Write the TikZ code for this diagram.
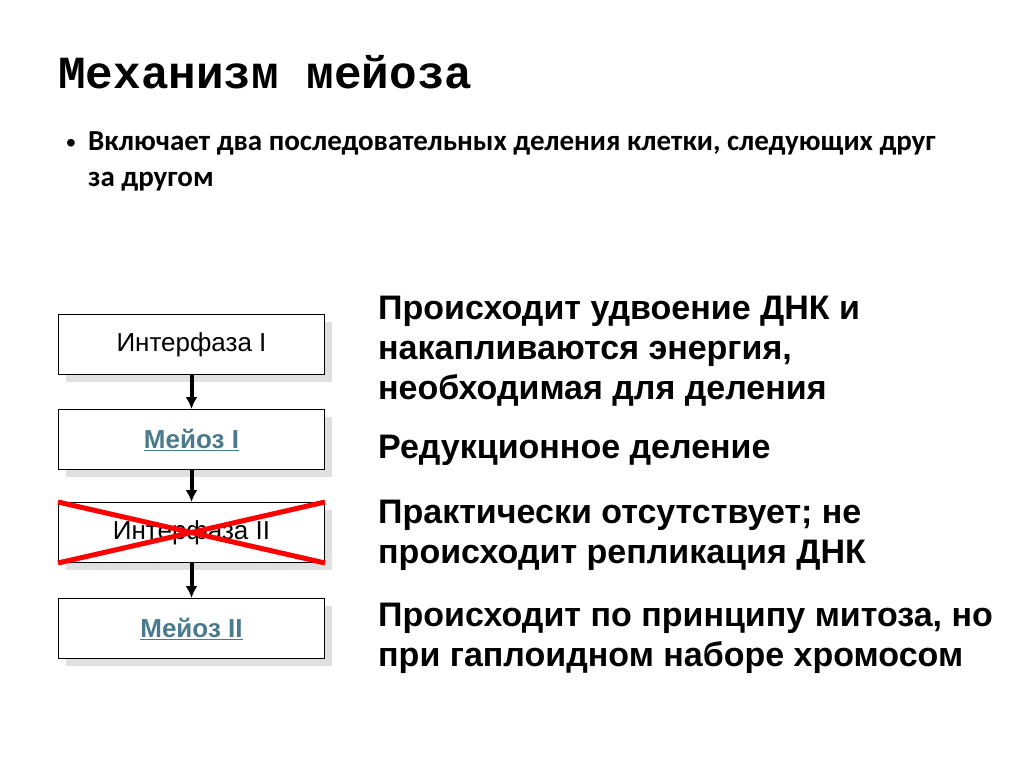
\documentclass[tikz,border=0pt]{standalone}
\usetikzlibrary{arrows.meta}
\usepackage{fontspec}
\setmainfont{Liberation Sans}
\newfontfamily\monof{Liberation Mono}
\newfontfamily\calf{Carlito}
\definecolor{linkc}{HTML}{4A7A8C}
\begin{document}
\begin{tikzpicture}[x=1pt,y=-1pt,
  box/.style={draw=black,line width=1pt,fill=white,minimum width=266pt,minimum height=60pt,inner sep=0pt,font=\fontsize{26}{30}\selectfont},
  shad/.style={fill=black!12},
  arr/.style={-{Latex[length=12pt,width=12pt]},line width=4pt},
  rt/.style={anchor=north west,align=left,font=\bfseries\fontsize{34}{40}\selectfont}]
\useasboundingbox (0,0) rectangle (1024,767);
\fill[white] (0,0) rectangle (1024,767);
\node[anchor=west,inner sep=0pt,font=\monof\bfseries\fontsize{46}{50}\selectfont] (title) at (58,72) {Механизм мейоза};
\node[anchor=west,inner sep=0pt,font=\fontsize{28}{28}\selectfont] (bul) at (66,146) {•};
\node[anchor=north west,align=left,font=\calf\bfseries\fontsize{29}{36}\selectfont,inner sep=0pt] (btext) at (88,131) {Включает два последовательных деления клетки, следующих друг\\за другом};
\foreach \y in {314,409,502,598} \fill[shad] (66,\y+8) rectangle (332,\y+68);
\node[box,anchor=north west] (b1) at (58,314) {Интерфаза I};
\node[box,anchor=north west] (b2) at (58,409) {\textcolor{linkc}{\bfseries\underline{Мейоз I}}};
\node[box,anchor=north west] (b3) at (58,502) {Интерфаза II};
\node[box,anchor=north west] (b4) at (58,598) {\textcolor{linkc}{\bfseries\underline{Мейоз II}}};
\draw[red,line width=5pt] (b3.north west) -- (b3.south east) (b3.south west) -- (b3.north east);
\draw[arr] (b1) -- (b2);
\draw[arr] (b2) -- (b3);
\draw[arr] (b3) -- (b4);
\node[rt,inner sep=0pt] (t1) at (378,296) {Происходит удвоение  ДНК  и\\накапливаются энергия,\\необходимая для деления};
\node[rt,inner sep=0pt] (t2) at (378,435) {Редукционное деление};
\node[rt,inner sep=0pt] (t3) at (378,500) {Практически отсутствует; не\\происходит репликация ДНК};
\node[rt,inner sep=0pt] (t4) at (378,603) {Происходит по принципу митоза, но\\при гаплоидном наборе хромосом};
\end{tikzpicture}
\end{document}
